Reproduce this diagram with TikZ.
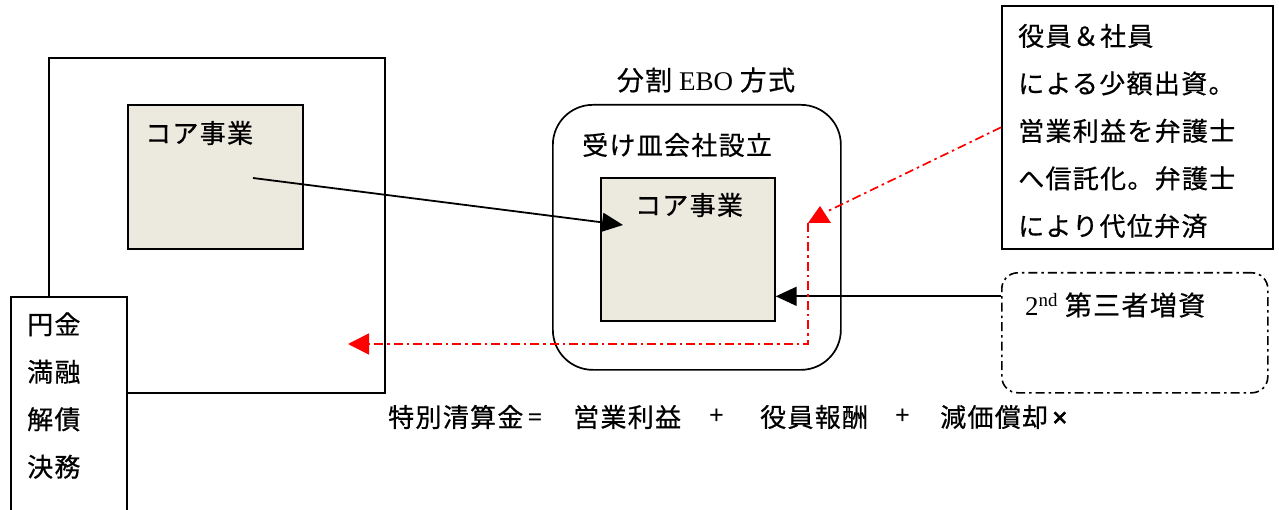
\documentclass[tikz,border=0pt]{standalone}
\usepackage{fontspec}
\setmainfont{Liberation Serif}
\newfontfamily\jp[LetterSpace=5,FakeBold=0.6]{Noto Sans CJK JP}
\newfontfamily\jpsym{Noto Sans}
\newfontfamily\jpsymb[FakeBold=2.5]{Noto Sans}
\usetikzlibrary{arrows.meta,calc}
\definecolor{corefill}{RGB}{236,233,223}
\tikzset{
  box/.style={draw=black,line width=1.7pt,inner sep=0pt},
  corebox/.style={box,fill=corefill},
  jptext/.style={font=\jp\fontsize{26}{47.5}\selectfont,inner sep=0pt,anchor=west},
  blackarrow/.style={line width=1.8pt,-{Triangle[length=21pt,width=19pt]}},
  redline/.style={draw=red,line width=1.7pt,dash pattern=on 9pt off 4pt on 2.5pt off 4pt},
  redarrow/.style={redline,-{Triangle[length=21pt,width=21pt]}}
}
\begin{document}
\begin{tikzpicture}[x=1pt,y=-1pt]
\useasboundingbox (0,0) rectangle (1279,510);
% left big box
\node[box,anchor=north west,minimum width=336,minimum height=335] (big) at (48,57) {};
\node[corebox,anchor=north west,minimum width=175,minimum height=144] (core1) at (127,104) {};
\node[jptext] (core1t) at (145,133) {コア事業};
% left small box (runs off the bottom)
\draw[box,fill=white] (11,520) -- (11,297) -- (127,297) -- (127,520);
\coordinate (lbox) at (11,297);
\node[jptext,align=left] (lboxt) at (27,395.5) {円金\\満融\\解債\\決務};
% centre rounded box
\node[box,rounded corners=40pt,anchor=north west,minimum width=288,minimum height=265] (ebo) at (552,104) {};
\node[font=\fontsize{27}{30}\selectfont,inner sep=0pt] (ebot) at (706,80) {{\jp 分割} EBO {\jp 方式}};
\node[jptext] (ukezara) at (582,145) {受け皿会社設立};
\node[corebox,anchor=north west,minimum width=174,minimum height=143] (core2) at (600,177) {};
\node[jptext,anchor=center] (core2t) at (689,205) {コア事業};
% top right note
\node[box,anchor=north west,minimum width=271,minimum height=243] (note) at (1001,5) {};
\node[jptext,align=left] (notet) at (1018,131) {役員＆社員\\による少額出資。\\営業利益を弁護士\\へ信託化。弁護士\\により代位弁済};
% second capital box
\node[draw=black,line width=1.6pt,dash pattern=on 9pt off 4pt on 2.5pt off 4pt,rounded corners=16pt,anchor=north west,minimum width=266,minimum height=120] (third) at (1001,272) {};
\node[font=\fontsize{27}{30}\selectfont,inner sep=0pt,anchor=west] (thirdt) at (1025,305) {2\textsuperscript{nd} {\jp 第三者増資}};
% equation
\node[jptext] (eq1) at (388,417) {特別清算金{\jpsym\,=}};
\node[jptext] (eq2) at (573,417) {営業利益};
\node[jptext] (eq3) at (709,417) {{\jpsym +}};
\node[jptext] (eq4) at (760,417) {役員報酬};
\node[jptext] (eq5) at (895,417) {{\jpsym +}};
\node[jptext] (eq6) at (940,417) {減価償却{\jpsymb\,×}};
% black arrows
\coordinate (a1s) at ($(core1.north west)+(126,74)$);
\coordinate (a1e) at ($(core2.north west)+(23,48)$);
\draw[blackarrow] (a1s) -- (a1e);
\coordinate (a2s) at ($(third.north west)!0.2!(third.south west)$);
\draw[blackarrow] (a2s) -- (core2.east |- a2s);
% red paths
\coordinate (r1e) at (826,212);
\draw[redline] (note.west) -- (r1e);
\coordinate (rtop) at (808,223);
\fill[red] (rtop) -- (820,206) -- (831,223) -- cycle;
\coordinate (rcorner) at (808,344);
\coordinate (rend) at (348,344);
\draw[redarrow] (rtop) -- (rcorner) -- (rend);
\end{tikzpicture}
\end{document}
